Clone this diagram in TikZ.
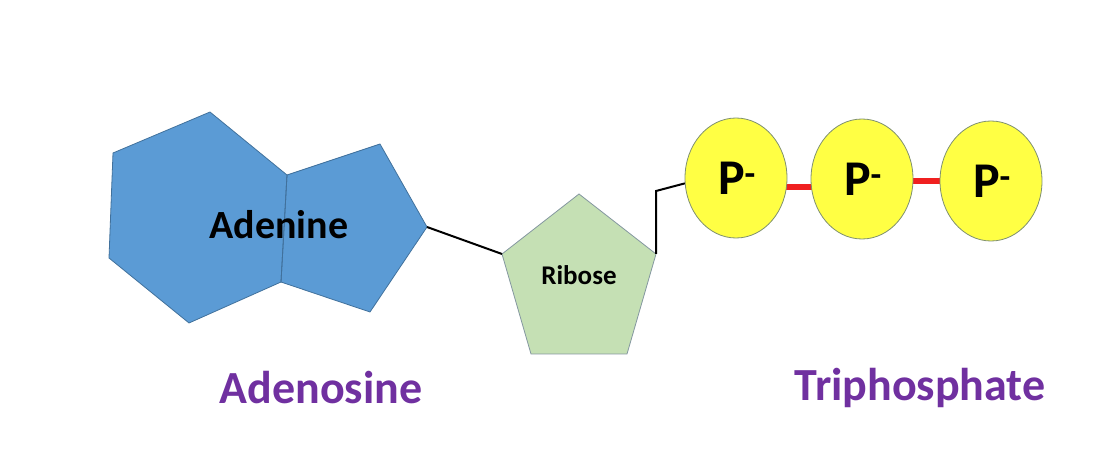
\documentclass[tikz,border=0pt]{standalone}
\usepackage{fontspec}
\setmainfont{Carlito}
\usetikzlibrary{shapes.geometric,backgrounds}
\definecolor{adblue}{HTML}{5B9BD5}
\definecolor{adedge}{HTML}{41719C}
\definecolor{ribfill}{HTML}{C5E0B4}
\definecolor{ribedge}{HTML}{8497A0}
\definecolor{pfill}{HTML}{FFFF44}
\definecolor{pedge}{HTML}{7F9070}
\definecolor{lblpurple}{HTML}{7030A0}
\definecolor{bondred}{HTML}{F02020}
\begin{document}
\begin{tikzpicture}[x=1pt,y=-1pt,
  ring/.style={fill=adblue,draw=adedge,line width=0.8pt,line join=miter},
  sugar/.style={fill=ribfill,draw=ribedge,line width=0.8pt},
  phos/.style={ellipse,fill=pfill,draw=pedge,line width=0.8pt,minimum width=102pt,minimum height=120pt,inner sep=0pt,font=\bfseries\fontsize{50}{50}\selectfont},
  link/.style={draw=black,line width=2pt},
  bond/.style={draw=bondred,line width=6pt},
  caption/.style={text=lblpurple,font=\bfseries\fontsize{46}{46}\selectfont}]
\useasboundingbox (0,0) rectangle (1117,470);
% Adenine rings
\coordinate (a1) at (113,153);
\coordinate (a2) at (210,112);
\coordinate (a3) at (287,175);
\coordinate (a4) at (281,282);
\coordinate (a5) at (189,323);
\coordinate (a6) at (109,258);
\coordinate (b2) at (380,144);
\coordinate (aright) at (427,227);
\coordinate (b4) at (370,312);
\fill[adblue] (a1) -- (a2) -- (a3) -- (b2) -- (aright) -- (b4) -- (a4) -- (a5) -- (a6) -- cycle;
\draw[ring,fill=none] (a1) -- (a2) -- (a3) -- (a4) -- (a5) -- (a6) -- cycle;
\draw[ring,fill=none] (a3) -- (b2) -- (aright) -- (b4) -- (a4) -- cycle;
\node[font=\bfseries\fontsize{40}{40}\selectfont] (adenine) at (279,225) {Adenine};
% Ribose
\coordinate (r1) at (579,194);
\coordinate (rright) at (656,254);
\coordinate (r3) at (627,354);
\coordinate (r4) at (531,354);
\coordinate (rleft) at (502,254);
\draw[sugar] (r1) -- (rright) -- (r3) -- (r4) -- (rleft) -- cycle;
\node[font=\bfseries\fontsize{27}{27}\selectfont] (ribose) at (579,275) {Ribose};
% Phosphates
\node[phos] (p1) at (736,178) {\hspace*{2pt}P\textsuperscript{-}};
\node[phos] (p2) at (862,179) {\hspace*{2pt}P\textsuperscript{-}};
\node[phos] (p3) at (991,181) {\hspace*{2pt}P\textsuperscript{-}};
\begin{scope}[on background layer]
\draw[bond] ([yshift=-9pt]p1.center) -- ([yshift=-8pt]p2.center);
\draw[bond] ([yshift=-2pt]p2.center) -- ([yshift=0pt]p3.center);
\end{scope}
% Connectors
\draw[link] (aright) -- (rleft);
\coordinate (elbow) at (656,191);
\draw[link] (rright) -- (elbow) -- (p1.186);
% Captions
\node[caption] (adenosine) at (321,388) {Adenosine};
\node[caption] (triphos) at (920,388) {Triphosphate};
\end{tikzpicture}
\end{document}
